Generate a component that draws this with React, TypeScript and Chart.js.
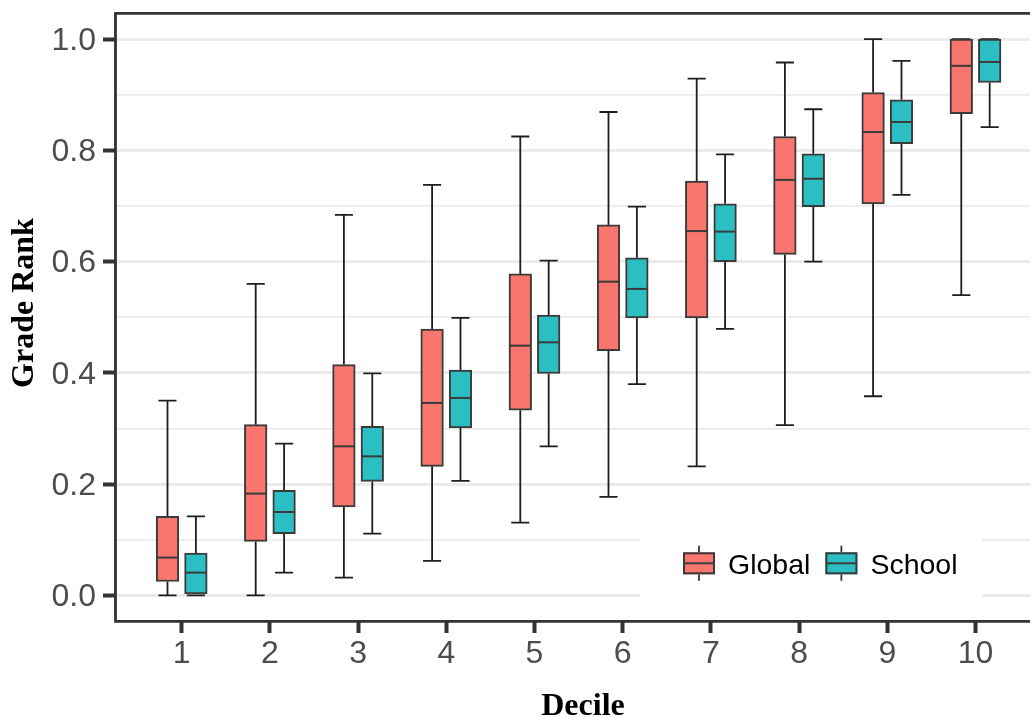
import React, { useEffect, useRef } from 'react';
import { Chart, registerables } from 'chart.js';

Chart.register(...registerables);

// ---------- data ----------
const deciles = [1, 2, 3, 4, 5, 6, 7, 8, 9, 10];

const globalMin = [0.0, 0.0, 0.032, 0.062, 0.131, 0.177, 0.232, 0.306, 0.358, 0.54];
const globalQ1 = [0.025, 0.097, 0.159, 0.232, 0.333, 0.44, 0.499, 0.613, 0.704, 0.866];
const globalMedian = [0.068, 0.183, 0.268, 0.346, 0.449, 0.564, 0.655, 0.747, 0.833, 0.952];
const globalQ3 = [0.142, 0.307, 0.415, 0.479, 0.578, 0.666, 0.745, 0.825, 0.904, 1.0];
const globalMax = [0.35, 0.56, 0.684, 0.738, 0.825, 0.869, 0.929, 0.958, 1.0, 1.0];

const schoolMin = [0.0, 0.041, 0.111, 0.206, 0.268, 0.38, 0.479, 0.6, 0.72, 0.842];
const schoolQ1 = [0.0, 0.111, 0.205, 0.301, 0.399, 0.499, 0.6, 0.699, 0.812, 0.922];
const schoolMedian = [0.041, 0.15, 0.25, 0.355, 0.455, 0.551, 0.654, 0.749, 0.851, 0.959];
const schoolQ3 = [0.076, 0.189, 0.304, 0.405, 0.504, 0.607, 0.704, 0.794, 0.891, 1.0];
const schoolMax = [0.142, 0.273, 0.399, 0.499, 0.602, 0.699, 0.793, 0.874, 0.961, 1.0];

const seriesNames = ['Global', 'School'];
const yMajorTicks = [0, 0.2, 0.4, 0.6, 0.8, 1.0];
const yMinorTicks = [0.1, 0.3, 0.5, 0.7, 0.9];
const xTitle = 'Decile';
const yTitle = 'Grade Rank';

const seriesStats = [
  { min: globalMin, q1: globalQ1, median: globalMedian, q3: globalQ3, max: globalMax },
  { min: schoolMin, q1: schoolQ1, median: schoolMedian, q3: schoolQ3, max: schoolMax },
];

// ---------- styles ----------
const seriesColors = ['#F8766D', '#2BBFC4'];
const SANS = '"Liberation Sans", Arial, Helvetica, sans-serif';
const SERIF = '"Liberation Serif", "Times New Roman", serif';
const BOX_BORDER = '#3a3a3a';
const WHISKER = '#1e1e1e';
const AXIS_DARK = '#333333';
const GRID = '#EBEBEB';
const TICK_TEXT = '#4D4D4D';

const isMajor = (v: number) => yMajorTicks.some((m) => Math.abs(m - v) < 1e-9);

const boxplotPlugin = {
  id: 'boxplotParts',
  beforeDatasetsDraw(chart: any) {
    const ctx = chart.ctx;
    const ys = chart.scales.y;
    chart.data.datasets.forEach((_ds: any, di: number) => {
      const meta = chart.getDatasetMeta(di);
      const st = seriesStats[di];
      meta.data.forEach((bar: any, i: number) => {
        const x = bar.x;
        const cap = bar.width * 0.4;
        const pMax = ys.getPixelForValue(st.max[i]);
        const pQ3 = ys.getPixelForValue(st.q3[i]);
        const pQ1 = ys.getPixelForValue(st.q1[i]);
        const pMin = ys.getPixelForValue(st.min[i]);
        ctx.save();
        ctx.strokeStyle = WHISKER;
        ctx.lineWidth = 1.8;
        ctx.beginPath();
        ctx.moveTo(x, pQ3);
        ctx.lineTo(x, pMax);
        ctx.moveTo(x - cap, pMax);
        ctx.lineTo(x + cap, pMax);
        ctx.moveTo(x, pQ1);
        ctx.lineTo(x, pMin);
        ctx.moveTo(x - cap, pMin);
        ctx.lineTo(x + cap, pMin);
        ctx.stroke();
        ctx.restore();
      });
    });
  },
  afterDatasetsDraw(chart: any) {
    const ctx = chart.ctx;
    const ys = chart.scales.y;
    chart.data.datasets.forEach((_ds: any, di: number) => {
      const meta = chart.getDatasetMeta(di);
      const st = seriesStats[di];
      meta.data.forEach((bar: any, i: number) => {
        const half = bar.width / 2;
        const pMed = ys.getPixelForValue(st.median[i]);
        ctx.save();
        ctx.strokeStyle = BOX_BORDER;
        ctx.lineWidth = 2;
        ctx.beginPath();
        ctx.moveTo(bar.x - half + 1, pMed);
        ctx.lineTo(bar.x + half - 1, pMed);
        ctx.stroke();
        ctx.restore();
      });
    });
  },
};

const decorPlugin = {
  id: 'decor',
  afterDraw(chart: any) {
    const ctx = chart.ctx;
    const a = chart.chartArea;
    // panel border (left, top, bottom)
    ctx.save();
    ctx.strokeStyle = AXIS_DARK;
    ctx.lineWidth = 2.8;
    ctx.beginPath();
    ctx.moveTo(a.right + 2, a.top + 0.3);
    ctx.lineTo(a.left + 0.5, a.top + 0.3);
    ctx.lineTo(a.left + 0.5, a.bottom + 0.3);
    ctx.lineTo(a.right + 2, a.bottom + 0.3);
    ctx.stroke();
    ctx.restore();

    // legend inside panel
    ctx.save();
    ctx.fillStyle = '#FFFFFF';
    ctx.fillRect(640, 527, 342, 73);
    ctx.font = `28.5px ${SANS}`;
    let cx = 683;
    const cy = 563.3;
    const kw = 32;
    const kh = 22;
    seriesNames.forEach((name, i) => {
      ctx.strokeStyle = AXIS_DARK;
      ctx.lineWidth = 1.8;
      ctx.beginPath();
      ctx.moveTo(cx + kw / 2, cy - kh / 2 - 6.5);
      ctx.lineTo(cx + kw / 2, cy - kh / 2);
      ctx.moveTo(cx + kw / 2, cy + kh / 2);
      ctx.lineTo(cx + kw / 2, cy + kh / 2 + 6.5);
      ctx.stroke();
      ctx.fillStyle = seriesColors[i];
      ctx.fillRect(cx, cy - kh / 2, kw, kh);
      ctx.strokeStyle = BOX_BORDER;
      ctx.lineWidth = 2;
      ctx.strokeRect(cx + 1, cy - kh / 2 + 1, kw - 2, kh - 2);
      ctx.beginPath();
      ctx.moveTo(cx + 1, cy);
      ctx.lineTo(cx + kw - 1, cy);
      ctx.stroke();
      ctx.fillStyle = '#000000';
      ctx.textAlign = 'left';
      ctx.textBaseline = 'alphabetic';
      const tx = cx + kw + 13;
      ctx.fillText(name, tx, cy + 10.5);
      cx = tx + ctx.measureText(name).width + 15;
    });
    ctx.restore();

    // axis titles
    ctx.save();
    ctx.fillStyle = '#000000';
    ctx.font = `bold 32px ${SERIF}`;
    ctx.textAlign = 'center';
    ctx.textBaseline = 'alphabetic';
    ctx.fillText(xTitle, 583, 714.5);
    ctx.translate(33, 303);
    ctx.rotate(-Math.PI / 2);
    ctx.fillText(yTitle, 0, 0);
    ctx.restore();
  },
};

export default function App() {
  const ref = useRef<HTMLCanvasElement | null>(null);

  useEffect(() => {
    document.body.style.margin = '0';
    document.body.style.overflow = 'hidden';
    const canvas = ref.current;
    if (!canvas) return;

    const chart = new Chart(canvas, {
      type: 'bar',
      data: {
        datasets: seriesNames.map((name, si) => ({
          label: name,
          data: deciles.map((d, i) => ({ x: d, y: [seriesStats[si].q1[i], seriesStats[si].q3[i]] })),
          backgroundColor: seriesColors[si],
          borderColor: BOX_BORDER,
          borderWidth: 2,
          borderSkipped: false,
          barThickness: 28.4,
          maxBarThickness: 22.6,
          grouped: true,
        })),
      } as any,
      options: {
        animation: false,
        responsive: false,
        devicePixelRatio: 1,
        layout: { padding: { top: 13, left: 0, right: 0, bottom: 0 } },
        plugins: {
          legend: { display: false },
          tooltip: { enabled: false },
          title: { display: false },
        },
        scales: {
          x: {
            type: 'linear',
            min: 0.2438,
            max: 10.618,
            bounds: 'data',
            offset: false,
            afterBuildTicks: (s: any) => {
              s.ticks = deciles.map((v) => ({ value: v }));
            },
            afterFit: (s: any) => {
              s.height = 96;
            },
            grid: {
              offset: false,
              drawOnChartArea: false,
              drawTicks: true,
              tickLength: 12,
              tickWidth: 4,
              tickColor: AXIS_DARK,
            },
            border: { display: false },
            ticks: {
              autoSkip: false,
              maxRotation: 0,
              minRotation: 0,
              padding: 2,
              color: TICK_TEXT,
              font: { family: SANS, size: 32 },
              callback: (v: any) => String(v),
            },
          },
          y: {
            type: 'linear',
            min: -0.046,
            max: 1.047,
            bounds: 'data',
            afterBuildTicks: (s: any) => {
              s.ticks = [...yMajorTicks, ...yMinorTicks].sort((a, b) => a - b).map((v) => ({ value: v }));
            },
            afterFit: (s: any) => {
              s.width = 115;
            },
            grid: {
              color: GRID,
              lineWidth: (c: any) => (c.tick && isMajor(c.tick.value) ? 3 : 1.8),
              drawTicks: true,
              tickLength: 12,
              tickWidth: 4,
              tickColor: (c: any) => (c.tick && isMajor(c.tick.value) ? AXIS_DARK : 'rgba(0,0,0,0)'),
            },
            border: { display: false },
            ticks: {
              autoSkip: false,
              padding: 7,
              labelOffset: 2,
              color: TICK_TEXT,
              font: { family: SANS, size: 32, lineHeight: '12px' },
              callback: (v: any) => (isMajor(Number(v)) ? Number(v).toFixed(1) : ''),
            },
          },
        },
      } as any,
      plugins: [boxplotPlugin, decorPlugin],
    });

    return () => chart.destroy();
  }, []);

  return <canvas ref={ref} width={1030} height={717} style={{ display: 'block' }} />;
}
